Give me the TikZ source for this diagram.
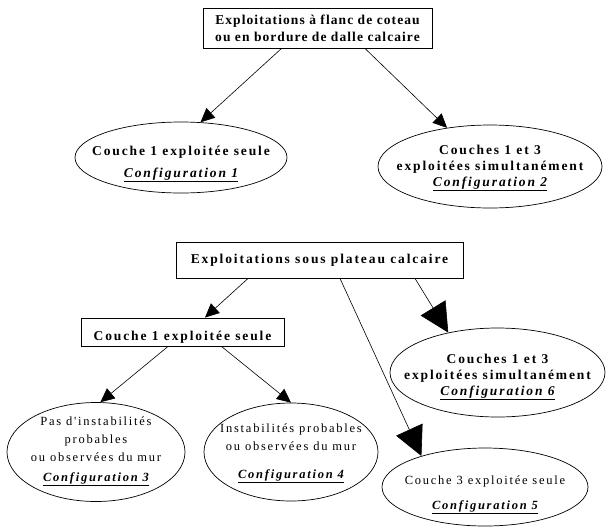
\documentclass[tikz,border=0pt]{standalone}
\usepackage{fontspec}
\setmainfont{Liberation Serif}
\newfontfamily\espace[LetterSpace=14]{Liberation Serif}
\newfontfamily\serre[LetterSpace=8]{Liberation Serif}
\usetikzlibrary{shapes.geometric,arrows.meta}
\newcommand\confg[1]{\underline{\bfseries\itshape Configuration #1}}

\begin{document}
\begin{tikzpicture}[x=1pt,y=-1pt,
  boite/.style={draw, line width=0.9pt, inner sep=0pt},
  ovale/.style={draw, ellipse, line width=0.7pt, inner sep=0pt},
  gras/.style={font=\espace\fontsize{13.5}{16}\bfseries, align=center},
  fin/.style={font=\espace\fontsize{12.5}{18}\selectfont, align=center},
  fleche/.style={-{Triangle[length=14pt,width=13pt]}, line width=0.6pt},
  grossefleche/.style={-{Triangle[length=29pt,width=29pt]}, line width=0.6pt}]
  \useasboundingbox (0,0) rectangle (609,528);

  % Flanc de coteau
  \node[boite, gras, font=\serre\fontsize{13.5}{17}\bfseries, minimum width=229pt, minimum height=40pt] (flanc) at (317.5,28)
    {Exploitations à flanc de coteau\\ou en bordure de dalle calcaire};
  \node[ovale, minimum width=212pt, minimum height=71pt] (conf1) at (181,157.5) {};
  \node[gras] (t1) at (181,164) {Couche 1 exploitée seule\\[6pt]\confg{1}};
  \node[ovale, minimum width=224pt, minimum height=83pt] (conf2) at (490,166.5) {};
  \node[gras] (t2) at (490,168) {Couches 1 et 3\\exploitées simultanément\\\confg{2}};

  \draw[fleche] ([xshift=-36pt]flanc.south) -- (conf1.61);
  \draw[fleche] ([xshift=47.5pt]flanc.south) -- (conf2.138);

  % Plateau calcaire
  \node[boite, gras, minimum width=287pt, minimum height=36pt] (plateau) at (319.5,260)
    {Exploitations sous plateau calcaire};
  \node[boite, minimum width=203pt, minimum height=28pt] (couche1) at (182.5,332) {};
  \node[gras] (t7) at (182.5,337.5) {Couche 1 exploitée seule};
  \node[ovale, minimum width=178pt, minimum height=99pt] (conf3) at (96,452) {};
  \node[fin] (t3) at (96,451) {Pas d'instabilités\\probables\\ou observées du mur\\[2pt]\confg{3}};
  \node[ovale, minimum width=174pt, minimum height=98pt] (conf4) at (291,452) {};
  \node[fin] (t4) at (291,453.5) {Instabilités probables\\ou observées du mur\\[10pt]\confg{4}};
  \node[ovale, minimum width=215pt, minimum height=89pt] (conf6) at (497.5,372.5) {};
  \node[gras] (t6) at (497.5,377) {Couches 1 et 3\\exploitées simultanément\\\confg{6}};
  \node[ovale, minimum width=206pt, minimum height=78pt] (conf5) at (485,487) {};
  \node[fin] (t5) at (485,495) {Couche 3 exploitée seule\\[7pt]\confg{5}};

  \draw[fleche] ([xshift=-71.5pt]plateau.south) -- ([xshift=22.5pt]couche1.north);
  \draw[grossefleche] ([xshift=95.5pt]plateau.south) -- (conf6.141);
  \draw[grossefleche] ([xshift=20.5pt]plateau.south) -- (conf5.154);
  \draw[fleche] ([xshift=-14.5pt]couche1.south) -- (conf3.85);
  \draw[fleche] ([xshift=39pt]couche1.south) -- (conf4.north);
\end{tikzpicture}
\end{document}
